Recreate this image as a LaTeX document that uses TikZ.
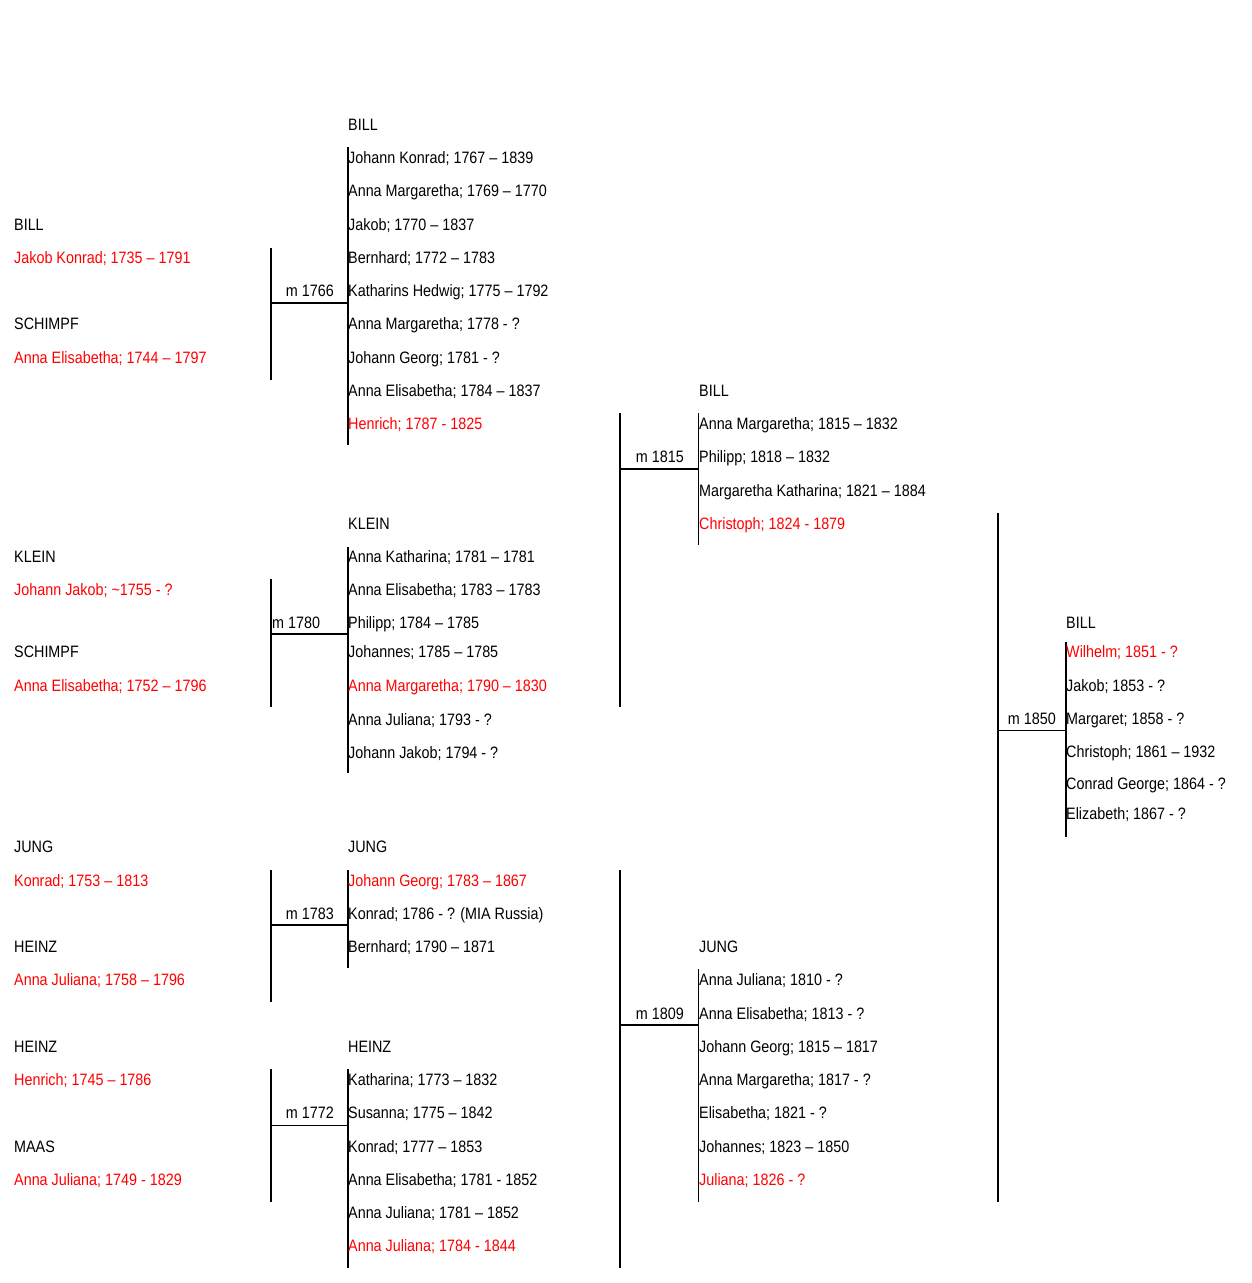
\documentclass[tikz,border=0pt]{standalone}
\usepackage{fontspec}
\usepackage{tikz}
\usepackage{xcolor}
\newfontfamily\treefont[FakeStretch=0.87]{Liberation Sans}
\definecolor{linered}{RGB}{255,0,0}

\tikzset{
  person/.style={anchor=base west, inner sep=0pt, font=\treefont\fontsize{16.5}{18}\selectfont},
  direct/.style={person, text=linered},
  wedlabel/.style={person, anchor=base east},
  parbar/.style={line width=2.5pt},
  kidbar/.style={line width=2pt},
  thinbar/.style={line width=1.2pt},
  wed/.style={line width=1.1pt}
}

\begin{document}
\begin{tikzpicture}[x=1pt,y=-1pt]
\useasboundingbox[fill=white] (0,0) rectangle (1252,1283);

% bars of each marriage
\coordinate (p1766a) at (271,248); \coordinate (p1766b) at (271,380); \coordinate (m1766) at (271,303);
\coordinate (k1766a) at (347.5,147); \coordinate (k1766b) at (347.5,445);
\coordinate (p1780a) at (271,579); \coordinate (p1780b) at (271,707); \coordinate (m1780) at (271,634);
\coordinate (k1780a) at (347.5,547); \coordinate (k1780b) at (347.5,773);
\coordinate (p1783a) at (271,870); \coordinate (p1783b) at (271,1002); \coordinate (m1783) at (271,925);
\coordinate (k1783a) at (347.5,870); \coordinate (k1783b) at (347.5,968);
\coordinate (p1772a) at (271,1069); \coordinate (p1772b) at (271,1202); \coordinate (m1772) at (271,1125.5);
\coordinate (k1772a) at (347.5,1069); \coordinate (k1772b) at (347.5,1268);
\coordinate (p1815a) at (620,413); \coordinate (p1815b) at (620,707); \coordinate (m1815) at (620,469);
\coordinate (k1815a) at (698.5,413); \coordinate (k1815b) at (698.5,545);
\coordinate (p1809a) at (620,870); \coordinate (p1809b) at (620,1268); \coordinate (m1809) at (620,1025);
\coordinate (k1809a) at (698.5,969); \coordinate (k1809b) at (698.5,1202);
\coordinate (p1850a) at (998,513); \coordinate (p1850b) at (998,1202); \coordinate (m1850) at (998,730.5);
\coordinate (k1850a) at (1066,642); \coordinate (k1850b) at (1066,837);

\draw[parbar] (p1766a) -- (p1766b);
\draw[kidbar] (k1766a) -- (k1766b);
\draw[wed] (m1766) -- (m1766 -| k1766a);
\draw[parbar] (p1780a) -- (p1780b);
\draw[kidbar] (k1780a) -- (k1780b);
\draw[wed] (m1780) -- (m1780 -| k1780a);
\draw[parbar] (p1783a) -- (p1783b);
\draw[kidbar] (k1783a) -- (k1783b);
\draw[wed] (m1783) -- (m1783 -| k1783a);
\draw[parbar] (p1772a) -- (p1772b);
\draw[kidbar] (k1772a) -- (k1772b);
\draw[wed] (m1772) -- (m1772 -| k1772a);
\draw[parbar] (p1815a) -- (p1815b);
\draw[thinbar] (k1815a) -- (k1815b);
\draw[wed] (m1815) -- (m1815 -| k1815a);
\draw[parbar] (p1809a) -- (p1809b);
\draw[thinbar] (k1809a) -- (k1809b);
\draw[wed] (m1809) -- (m1809 -| k1809a);
\draw[parbar] (p1850a) -- (p1850b);
\draw[kidbar] (k1850a) -- (k1850b);
\draw[wed] (m1850) -- (m1850 -| k1850a);

% marriage years
\node[wedlabel] (w1766) at (334,296) {m 1766};
\node[person] (w1780) at (272,628.5) {m 1780};
\node[wedlabel] (w1783) at (334,919) {m 1783};
\node[wedlabel] (w1772) at (334,1118.5) {m 1772};
\node[wedlabel] (w1815) at (684,462) {m 1815};
\node[wedlabel] (w1809) at (684,1019) {m 1809};
\node[wedlabel] (w1850) at (1056,724) {m 1850};

% grandparents
\node[person] (l1) at (14,230) {BILL};
\node[direct] (l2) at (14,263) {Jakob Konrad; 1735 – 1791};
\node[person] (l3) at (14,329) {SCHIMPF};
\node[direct] (l4) at (14,363) {Anna Elisabetha; 1744 – 1797};
\node[person] (l5) at (14,562) {KLEIN};
\node[direct] (l6) at (14,595) {Johann Jakob; \textasciitilde1755 - ?};
\node[person] (l7) at (14,657.5) {SCHIMPF};
\node[direct] (l8) at (14,691) {Anna Elisabetha; 1752 – 1796};
\node[person] (l9) at (14,852) {JUNG};
\node[direct] (l10) at (14,886) {Konrad; 1753 – 1813};
\node[person] (l11) at (14,952) {HEINZ};
\node[direct] (l12) at (14,985) {Anna Juliana; 1758 – 1796};
\node[person] (l13) at (14,1052) {HEINZ};
\node[direct] (l14) at (14,1085) {Henrich; 1745 – 1786};
\node[person] (l15) at (14,1152) {MAAS};
\node[direct] (l16) at (14,1185) {Anna Juliana; 1749 - 1829};

% second column
\node[person] (b0) at (348,130) {BILL};
\node[person] (b1) at (348,163) {Johann Konrad; 1767 – 1839};
\node[person] (b2) at (348,196) {Anna Margaretha; 1769 – 1770};
\node[person] (b3) at (348,230) {Jakob; 1770 – 1837};
\node[person] (b4) at (348,263) {Bernhard; 1772 – 1783};
\node[person] (b5) at (348,296) {Katharins Hedwig; 1775 – 1792};
\node[person] (b6) at (348,329) {Anna Margaretha; 1778 - ?};
\node[person] (b7) at (348,363) {Johann Georg; 1781 - ?};
\node[person] (b8) at (348,396) {Anna Elisabetha; 1784 – 1837};
\node[direct] (b9) at (348,429) {Henrich; 1787 - 1825};
\node[person] (k0) at (348,529) {KLEIN};
\node[person] (k1) at (348,562) {Anna Katharina; 1781 – 1781};
\node[person] (k2) at (348,595) {Anna Elisabetha; 1783 – 1783};
\node[person] (k3) at (348,628) {Philipp; 1784 – 1785};
\node[person] (k4) at (348,657) {Johannes; 1785 – 1785};
\node[direct] (k5) at (348,691) {Anna Margaretha; 1790 – 1830};
\node[person] (k6) at (348,725) {Anna Juliana; 1793 - ?};
\node[person] (k7) at (348,758) {Johann Jakob; 1794 - ?};
\node[person] (j0) at (348,852) {JUNG};
\node[direct] (j1) at (348,886) {Johann Georg; 1783 – 1867};
\node[person] (j2) at (348,919) {Konrad; 1786 - ? (MIA Russia)};
\node[person] (j3) at (348,952) {Bernhard; 1790 – 1871};
\node[person] (h0) at (348,1052) {HEINZ};
\node[person] (h1) at (348,1085) {Katharina; 1773 – 1832};
\node[person] (h2) at (348,1118.5) {Susanna; 1775 – 1842};
\node[person] (h3) at (348,1152) {Konrad; 1777 – 1853};
\node[person] (h4) at (348,1185) {Anna Elisabetha; 1781 - 1852};
\node[person] (h5) at (348,1218) {Anna Juliana; 1781 – 1852};
\node[direct] (h6) at (348,1251) {Anna Juliana; 1784 - 1844};

% third column
\node[person] (c0) at (699,396) {BILL};
\node[person] (c1) at (699,429) {Anna Margaretha; 1815 – 1832};
\node[person] (c2) at (699,462) {Philipp; 1818 – 1832};
\node[person] (c3) at (699,496) {Margaretha Katharina; 1821 – 1884};
\node[direct] (c4) at (699,529) {Christoph; 1824 - 1879};
\node[person] (g0) at (699,952) {JUNG};
\node[person] (g1) at (699,985) {Anna Juliana; 1810 - ?};
\node[person] (g2) at (699,1019) {Anna Elisabetha; 1813 - ?};
\node[person] (g3) at (699,1052) {Johann Georg; 1815 – 1817};
\node[person] (g4) at (699,1085) {Anna Margaretha; 1817 - ?};
\node[person] (g5) at (699,1118.5) {Elisabetha; 1821 - ?};
\node[person] (g6) at (699,1152) {Johannes; 1823 – 1850};
\node[direct] (g7) at (699,1185) {Juliana; 1826 - ?};

% last column
\node[person] (d0) at (1066,628.5) {BILL};
\node[direct] (d1) at (1066,657) {Wilhelm; 1851 - ?};
\node[person] (d2) at (1066,691) {Jakob; 1853 - ?};
\node[person] (d3) at (1066,724) {Margaret; 1858 - ?};
\node[person] (d4) at (1066,757.5) {Christoph; 1861 – 1932};
\node[person] (d5) at (1066,789.5) {Conrad George; 1864 - ?};
\node[person] (d6) at (1066,819.5) {Elizabeth; 1867 - ?};
\end{tikzpicture}
\end{document}
